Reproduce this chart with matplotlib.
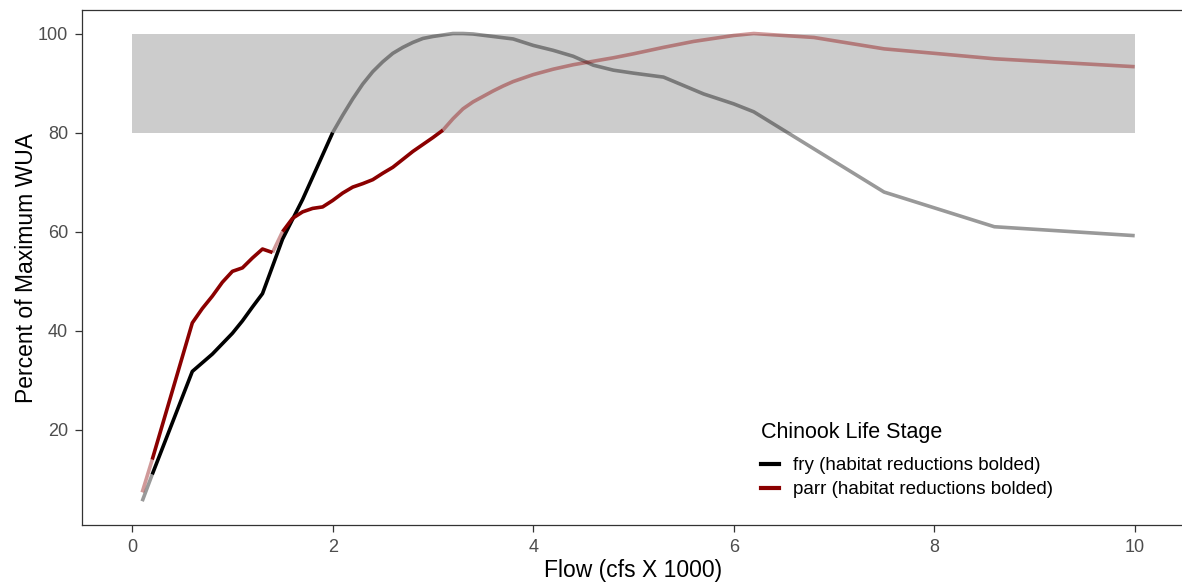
import numpy as np
import matplotlib
matplotlib.use("Agg")
import matplotlib.pyplot as plt
from matplotlib.lines import Line2D

plt.rcParams['font.family'] = ['Liberation Sans', 'DejaVu Sans']

# fry (black)
fry_flow = [0.1, 0.2, 0.6, 0.8, 1.0, 1.1, 1.2, 1.3, 1.4, 1.5, 1.6, 1.7, 1.8, 1.9, 2.0,
            2.1, 2.2, 2.3, 2.4, 2.5, 2.6, 2.7, 2.8, 2.9, 3.0, 3.2, 3.3, 3.4, 3.6, 3.8,
            4.0, 4.2, 4.4, 4.6, 4.8, 5.0, 5.3, 5.5, 5.7, 6.0, 6.2, 7.5, 8.6, 10.0]
fry_wua = [5.6, 11.0, 31.8, 35.3, 39.5, 42.0, 44.8, 47.5, 53.0, 58.5, 62.5, 66.5, 71.0, 75.5, 80.0,
           83.5, 86.8, 89.8, 92.3, 94.3, 96.0, 97.2, 98.2, 99.0, 99.4, 100.0, 100.0, 99.9, 99.4, 98.9,
           97.6, 96.6, 95.4, 93.6, 92.6, 92.0, 91.2, 89.5, 87.8, 85.8, 84.2, 68.0, 61.0, 59.2]
# segment starting at each point is bolded (habitat reduction)
fry_bold = [False] + [True] * 13 + [False] * 30

# parr (dark red)
parr_flow = [0.1, 0.2, 0.6, 0.7, 0.8, 0.9, 1.0, 1.1, 1.2, 1.3, 1.4, 1.5, 1.6, 1.7, 1.8, 1.9,
             2.0, 2.1, 2.2, 2.3, 2.4, 2.5, 2.6, 2.7, 2.8, 2.9, 3.0, 3.1, 3.2, 3.3, 3.4, 3.5,
             3.6, 3.7, 3.8, 4.0, 4.2, 4.4, 4.6, 4.8, 5.0, 5.3, 5.6, 6.0, 6.2, 6.8, 7.5, 8.0,
             8.6, 10.0]
parr_wua = [7.4, 14.0, 41.6, 44.5, 47.0, 49.8, 52.0, 52.7, 54.7, 56.5, 55.8, 60.0, 62.7, 64.0, 64.7, 65.0,
            66.3, 67.8, 69.0, 69.7, 70.5, 71.8, 73.0, 74.6, 76.2, 77.6, 79.0, 80.5, 82.8, 84.8, 86.2, 87.3,
            88.4, 89.4, 90.3, 91.7, 92.8, 93.7, 94.4, 95.1, 95.9, 97.2, 98.4, 99.6, 100.0, 99.2, 96.9, 96.0,
            94.9, 93.3]
parr_bold = [False] + [True] * 9 + [False] + [True] * 16 + [False] * 23

fig = plt.figure(figsize=(11.82, 5.87), dpi=100)
ax = fig.add_axes([0.0694, 0.1056, 0.933, 0.877])

ax.axhspan(80, 100, xmin=0.5 / 11, xmax=10.5 / 11, color='#cccccc', lw=0, zorder=1)


def draw(flow, wua, bold, col):
    # join consecutive segments with the same style into one line
    n = len(flow) - 1
    i = 0
    while i < n:
        j = i
        while j + 1 < n and bold[j + 1] == bold[i]:
            j += 1
        a = 1.0 if bold[i] else 0.4
        ax.plot(flow[i:j + 2], wua[i:j + 2], color=col, alpha=a, lw=2.6,
                solid_capstyle='butt', zorder=3)
        i = j + 1


draw(fry_flow, fry_wua, fry_bold, 'black')
draw(parr_flow, parr_wua, parr_bold, '#8b0000')

ax.set_xlim(-0.5, 10.5)
ax.set_ylim(0.8, 104.7)
ax.set_xticks([0, 2, 4, 6, 8, 10])
ax.set_yticks([20, 40, 60, 80, 100])
ax.tick_params(colors='#333333', labelcolor='#4d4d4d', labelsize=13, length=5, width=0.9, pad=5)
for s in ax.spines.values():
    s.set_color('#333333')
    s.set_linewidth(0.9)

ax.set_xlabel('Flow (cfs X 1000)', fontsize=16.5, labelpad=2)
ax.set_ylabel('Percent of Maximum WUA', fontsize=16.5, labelpad=0)

handles = [Line2D([], [], color='black', lw=3),
           Line2D([], [], color='#8b0000', lw=3)]
leg = ax.legend(handles, ['fry (habitat reductions bolded)', 'parr (habitat reductions bolded)'],
                title='Chinook Life Stage', loc='upper left', bbox_to_anchor=(0.6, 0.232),
                frameon=False, fontsize=13.5, title_fontsize=15.5, handlelength=1.0,
                handletextpad=0.75, labelspacing=0.35, alignment='left')
leg._legend_box.sep = 10

fig.savefig('out.png', dpi=100)
